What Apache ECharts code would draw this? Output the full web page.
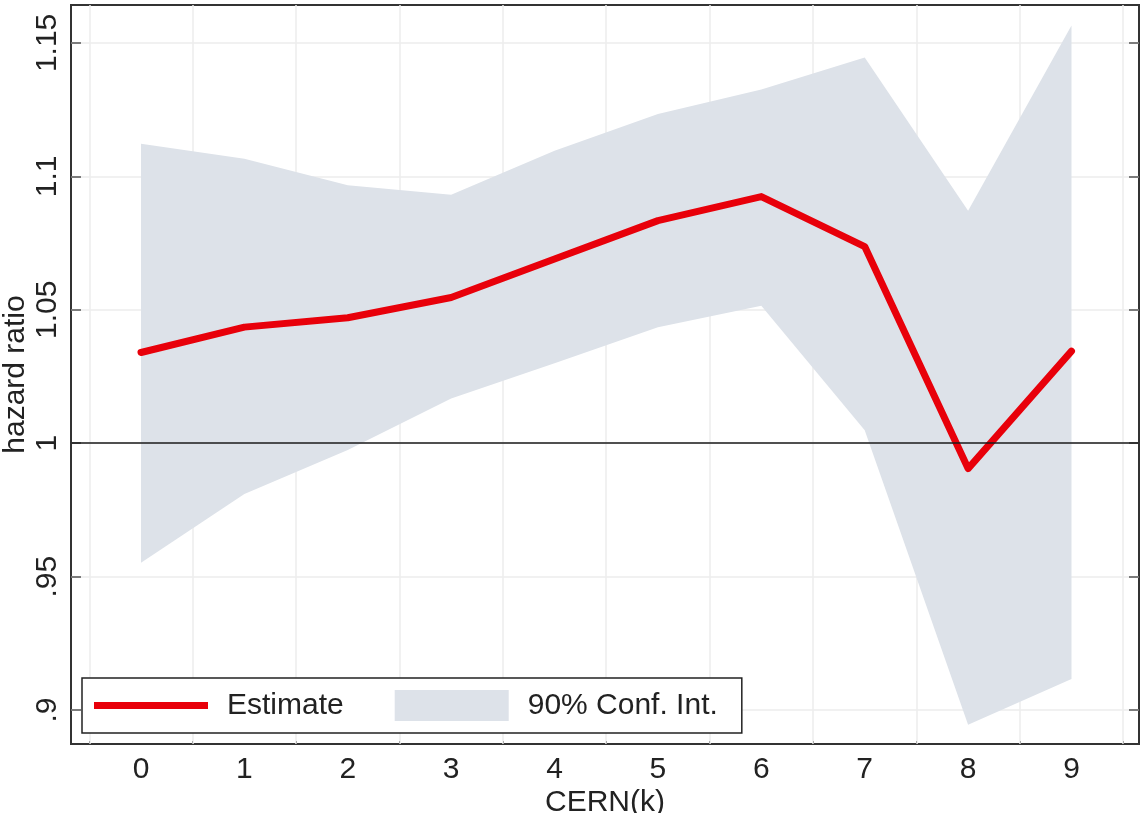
<!DOCTYPE html>
<html><head><meta charset="utf-8">
<script src="https://cdn.jsdelivr.net/npm/echarts@6/dist/echarts.min.js"></script>
<style>html,body{margin:0;padding:0;background:#fff}#c{width:1143px;height:813px}</style>
</head><body><div id="c"></div>
<script>
const xValues = [0, 1, 2, 3, 4, 5, 6, 7, 8, 9];
const estimate = [1.034, 1.0435, 1.047, 1.0546, 1.069, 1.0834, 1.0924, 1.0737, 0.9905, 1.0345];
const upperCI = [1.1122, 1.1066, 1.0967, 1.0931, 1.1096, 1.1234, 1.1325, 1.1445, 1.0871, 1.1565];
const lowerCI = [0.9552, 0.981, 0.9975, 1.0168, 1.030, 1.0435, 1.0515, 1.0049, 0.8945, 0.9117];
const yTickValues = [0.9, 0.95, 1, 1.05, 1.1, 1.15];
const yTickLabels = ['.9', '.95', '1', '1.05', '1.1', '1.15'];
const xTickValues = [0, 1, 2, 3, 4, 5, 6, 7, 8, 9];
const xGridValues = [-0.5, 0.5, 1.5, 2.5, 3.5, 4.5, 5.5, 6.5, 7.5, 8.5, 9.5];
const refValue = 1;

const FONT = '"Liberation Sans", Arial, sans-serif';
const RED = '#e8000a';
const BAND = '#dde2e9';
const FS = 30;

const chart = echarts.init(document.getElementById('c'), null, {renderer: 'canvas'});
const yFmt = v => {
  const i = yTickValues.findIndex(t => Math.abs(t - v) < 1e-9);
  return i >= 0 ? yTickLabels[i] : '';
};
const yAxisBase = {
  type: 'value', min: 0.8873, max: 1.1642,
  axisLine: {show: false, onZero: false},
  axisTick: {show: true, inside: true, length: 10, customValues: yTickValues, lineStyle: {color: '#555', width: 1.5}},
  splitLine: {show: true, lineStyle: {color: '#ededed', width: 1.5}}
};
chart.setOption({
  animation: false,
  backgroundColor: '#fff',
  grid: {left: 71, right: 4, top: 5, bottom: 69, show: true, borderColor: '#333', borderWidth: 2,
         containLabel: false, outerBoundsMode: 'none'},
  legend: {
    left: 82, top: 678, orient: 'horizontal',
    padding: [12, 24, 12, 12], itemGap: 51,
    itemWidth: 114, itemHeight: 31, symbolKeepAspect: true,
    backgroundColor: '#fff', borderColor: '#222', borderWidth: 1.5, borderRadius: 0,
    textStyle: {fontSize: FS, fontFamily: FONT, color: '#222', padding: [0, 0, 0, 14]},
    selectedMode: false,
    data: [
      {name: 'Estimate', icon: 'path://M0,0H114V7H0Z', itemStyle: {color: RED, borderWidth: 0}},
      {name: '90% Conf. Int.', icon: 'rect', itemStyle: {color: BAND, borderWidth: 0}}
    ]
  },
  xAxis: [{
    type: 'value', min: -0.677, max: 9.653,
    axisLine: {show: false, onZero: false},
    axisTick: {show: true, inside: true, length: 3, customValues: xGridValues, lineStyle: {color: '#aaa'}},
    axisLabel: {customValues: xTickValues, fontSize: FS, fontFamily: FONT, color: '#222', margin: 11},
    splitLine: {show: true, lineStyle: {color: '#ededed', width: 1.5}},
    name: 'CERN(k)', nameLocation: 'middle', nameGap: 44, nameMoveOverlap: false,
    nameTextStyle: {fontSize: FS, fontFamily: FONT, color: '#222'}
  }],
  yAxis: [
    Object.assign({}, yAxisBase, {
      position: 'left',
      axisLabel: {customValues: yTickValues, rotate: 90, formatter: yFmt, fontSize: FS, fontFamily: FONT, color: '#222', margin: 8},
      name: 'hazard ratio', nameLocation: 'middle', nameGap: 40, nameRotate: 90, nameMoveOverlap: false,
      nameTextStyle: {fontSize: FS, fontFamily: FONT, color: '#222'}
    }),
    Object.assign({}, yAxisBase, {
      position: 'right',
      axisLabel: {show: false},
      splitLine: {show: false}
    })
  ],
  series: [
    {
      name: '90% Conf. Int.', type: 'custom', z: 1, silent: true,
      itemStyle: {color: BAND},
      data: xValues.map((x, i) => [x, lowerCI[i], upperCI[i]]),
      encode: {x: 0, y: [1, 2]},
      clip: true,
      renderItem: (params, api) => {
        if (params.dataIndex !== 0) return null;
        const pts = [];
        for (let i = 0; i < xValues.length; i++) pts.push(api.coord([xValues[i], upperCI[i]]));
        for (let i = xValues.length - 1; i >= 0; i--) pts.push(api.coord([xValues[i], lowerCI[i]]));
        return {type: 'polygon', shape: {points: pts}, style: {fill: BAND, stroke: null}};
      }
    },
    {
      name: 'ref', type: 'line', z: 2, data: [], silent: true,
      markLine: {silent: true, symbol: 'none', animation: false,
        label: {show: false},
        lineStyle: {color: '#1a1a1a', width: 1.5, type: 'solid'},
        data: [{yAxis: refValue}]}
    },
    {
      name: 'Estimate', type: 'line', z: 3, symbol: 'none', silent: true,
      data: xValues.map((x, i) => [x, estimate[i]]),
      lineStyle: {color: RED, width: 7, cap: 'round', join: 'round'},
      itemStyle: {color: RED}
    }
  ]
});
</script></body></html>
